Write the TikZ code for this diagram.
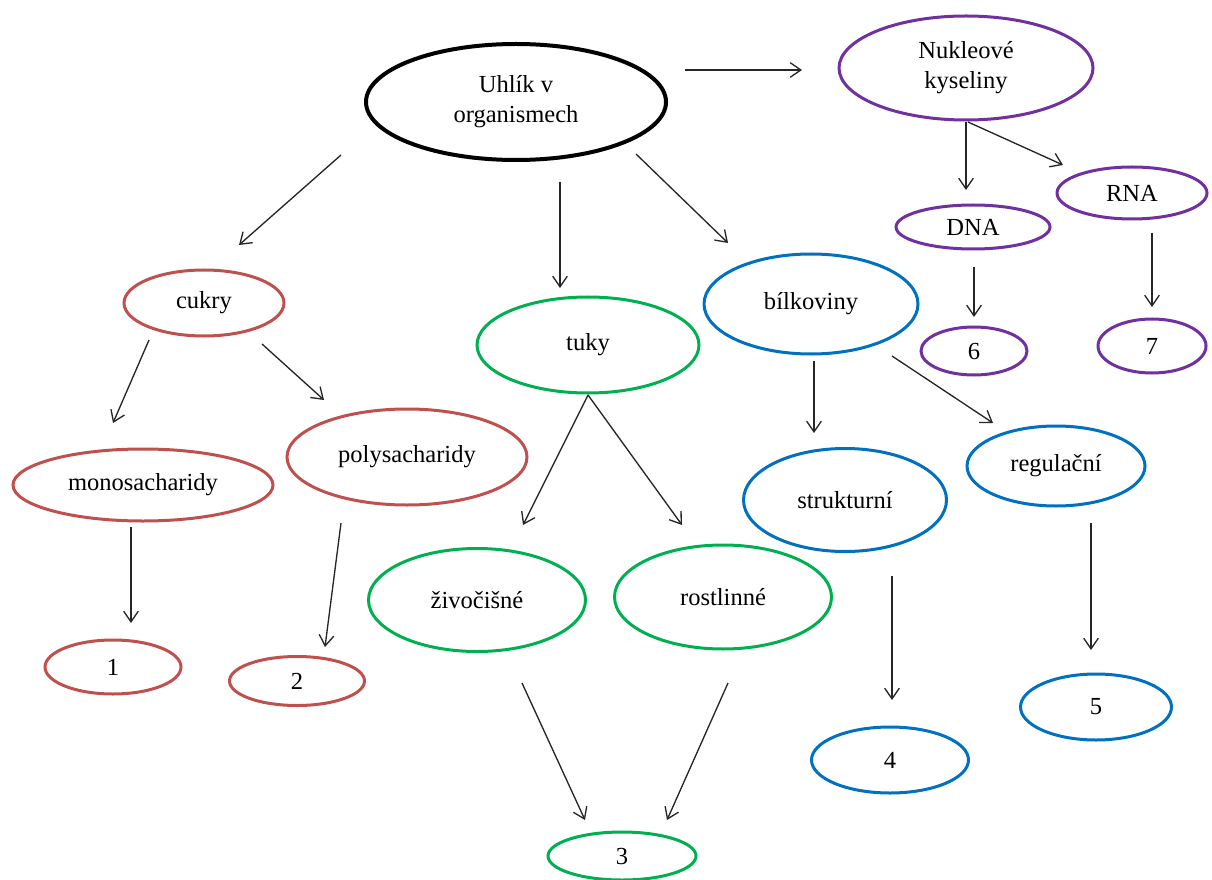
\documentclass[tikz,border=0pt]{standalone}
\usepackage{fontspec}
\setmainfont{Liberation Serif}
\usetikzlibrary{shapes.geometric,arrows.meta}
\definecolor{cred}{HTML}{C0504D}
\definecolor{cgreen}{HTML}{00B050}
\definecolor{cblue}{HTML}{0070C0}
\definecolor{cpurple}{HTML}{7030A0}
\definecolor{carrow}{HTML}{262626}
\tikzset{
  ov/.style n args={3}{ellipse, draw=#3, line width=2.25pt, inner sep=0pt,
    minimum width=#1*0.75pt, minimum height=#2*0.75pt, align=center,
    font=\fontsize{18.4}{22.5}\selectfont, text=black},
  link/.style={draw=carrow, line width=1pt, -{Straight Barb[length=8pt,width=11pt,line width=1pt]}},
}
\begin{document}
\begin{tikzpicture}[x=0.75pt,y=-0.75pt]
\useasboundingbox (0,0) rectangle (1212,880);
% nodes
\node[ov={300}{116}{black}, line width=3pt] (uhlik) at (516,102) {Uhlík v\\organismech};
\node[ov={254}{104}{cpurple}] (nukl) at (966,68) {Nukleové\\kyseliny};
\node[ov={160}{66}{cred}] (cukry) at (204,303) {cukry};
\node[ov={222}{96}{cgreen}] (tuky) at (588,345) {tuky};
\node[ov={214}{100}{cblue}] (bilk) at (811,304) {bílkoviny};
\node[ov={154}{44}{cpurple}] (dna) at (973,227) {DNA};
\node[ov={150}{52}{cpurple}] (rna) at (1132,193) {RNA};
\node[ov={106}{48}{cpurple}] (six) at (974,351) {6};
\node[ov={108}{54}{cpurple}] (seven) at (1152,346) {7};
\node[ov={260}{72}{cred}] (mono) at (143,485) {monosacharidy};
\node[ov={240}{96}{cred}] (poly) at (407,457) {polysacharidy};
\node[ov={136}{54}{cred}] (one) at (113,667) {1};
\node[ov={135}{49}{cred}] (two) at (297,681) {2};
\node[ov={217}{103}{cgreen}] (ziv) at (477,600) {živočišné};
\node[ov={217}{104}{cgreen}] (rost) at (723,597) {rostlinné};
\node[ov={148}{48}{cgreen}] (three) at (622,856) {3};
\node[ov={203}{103}{cblue}] (struk) at (845,500) {strukturní};
\node[ov={178}{80}{cblue}] (regul) at (1056,466) {regulační};
\node[ov={157}{66}{cblue}] (four) at (890,760) {4};
\node[ov={151}{66}{cblue}] (five) at (1096,707) {5};
% arrow end points
\coordinate (uN1) at (685,70);   \coordinate (uN2) at (802,70);
\coordinate (uC1) at (341,155);  \coordinate (uC2) at (239,245);
\coordinate (uT1) at (560,182);  \coordinate (uT2) at (560,288);
\coordinate (uB1) at (636,154);  \coordinate (uB2) at (728,243);
\coordinate (nD1) at (966,122);  \coordinate (nD2) at (966,190);
\coordinate (nR1) at (968,122);  \coordinate (nR2) at (1063,165);
\coordinate (d61) at (974,267);  \coordinate (d62) at (974,317);
\coordinate (r71) at (1152,233); \coordinate (r72) at (1152,307);
\coordinate (cM1) at (149,340);  \coordinate (cM2) at (113,423);
\coordinate (cP1) at (262,344);  \coordinate (cP2) at (324,400);
\coordinate (m11) at (131,527);  \coordinate (m12) at (131,623);
\coordinate (p21) at (341,523);  \coordinate (p22) at (325,647);
\coordinate (tZ1) at (588,395);  \coordinate (tZ2) at (523,525);
\coordinate (tR1) at (588,395);  \coordinate (tR2) at (682,525);
\coordinate (z31) at (522,683);  \coordinate (z32) at (585,820);
\coordinate (r31) at (728,683);  \coordinate (r32) at (667,820);
\coordinate (bS1) at (814,361);  \coordinate (bS2) at (814,433);
\coordinate (bR1) at (892,356);  \coordinate (bR2) at (993,423);
\coordinate (s41) at (892,576);  \coordinate (s42) at (892,700);
\coordinate (g51) at (1091,523); \coordinate (g52) at (1091,650);
% connectors
\draw[link] (uN1) -- (uN2);
\draw[link] (uC1) -- (uC2);
\draw[link] (uT1) -- (uT2);
\draw[link] (uB1) -- (uB2);
\draw[link] (nD1) -- (nD2);
\draw[link] (nR1) -- (nR2);
\draw[link] (d61) -- (d62);
\draw[link] (r71) -- (r72);
\draw[link] (cM1) -- (cM2);
\draw[link] (cP1) -- (cP2);
\draw[link] (m11) -- (m12);
\draw[link] (p21) -- (p22);
\draw[link] (tZ1) -- (tZ2);
\draw[link] (tR1) -- (tR2);
\draw[link] (z31) -- (z32);
\draw[link] (r31) -- (r32);
\draw[link] (bS1) -- (bS2);
\draw[link] (bR1) -- (bR2);
\draw[link] (s41) -- (s42);
\draw[link] (g51) -- (g52);
\end{tikzpicture}
\end{document}
